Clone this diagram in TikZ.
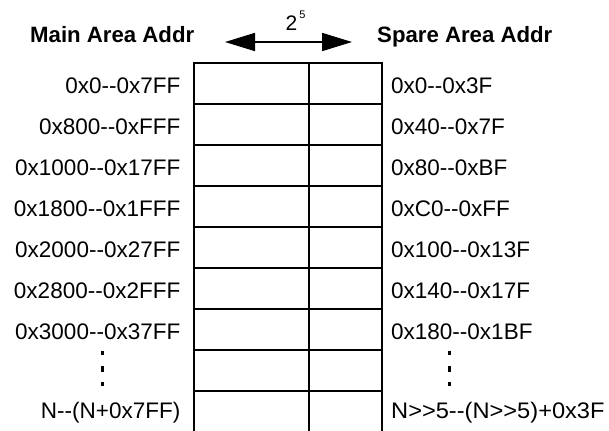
\documentclass[tikz,border=0pt]{standalone}
\usepackage{fontspec}
\usepackage{graphicx}
\setmainfont{Liberation Sans}
\usetikzlibrary{arrows.meta}
\newcommand\hyhy{-\kern0pt-}
\newcommand\gtgt{>\kern0pt>}
\begin{document}
\begin{tikzpicture}[x=1bp,y=-1bp,
  lbl/.style={inner sep=0pt,font=\fontsize{22.5bp}{26bp}\selectfont},
  lleft/.style={lbl,anchor=base east},
  lright/.style={lbl,anchor=base west},
  hdr/.style={inner sep=0pt,anchor=base west,font=\fontsize{22.2bp}{26bp}\selectfont\bfseries},
  gridline/.style={line width=2.3bp,line cap=rect},
  dotmark/.style={fill=black},
  bigarrow/.style={line width=1.7bp,{Triangle[length=30bp,width=18bp]}-{Triangle[length=30bp,width=18bp]}}]
\useasboundingbox (0,0) rectangle (609,430);
% headers
\node[hdr] (hmain) at (30,42) {Main Area Addr};
\node[hdr] (hspare) at (377,42) {Spare Area Addr};
% arrow and 2^5
\coordinate (aleft) at (225,42);
\coordinate (aright) at (352,42);
\draw[bigarrow] (aleft) -- (aright);
\node[inner sep=0pt,anchor=base,font=\fontsize{21bp}{24bp}\selectfont] (two) at (291.5,30) {2};
\node[inner sep=0pt,anchor=base,font=\fontsize{11bp}{13bp}\selectfont] (five) at (302.5,18) {5};
% table
\foreach \r in {0,...,8}{
  \draw[gridline] (194,63+41*\r) -- (382,63+41*\r);
}
\draw[gridline] (194,63) -- (194,440);
\draw[gridline] (309,63) -- (309,440);
\draw[gridline] (382,63) -- (382,440);
% left labels
\node[lleft] (l1) at (180.5,93) {0x0\hyhy0x7FF};
\node[lleft] (l2) at (180.5,134) {0x800\hyhy0xFFF};
\node[lleft] (l3) at (180.5,175) {0x1000\hyhy0x17FF};
\node[lleft] (l4) at (180.5,216) {0x1800\hyhy0x1FFF};
\node[lleft] (l5) at (180.5,257) {0x2000\hyhy0x27FF};
\node[lleft] (l6) at (180.5,298) {0x2800\hyhy0x2FFF};
\node[lleft] (l7) at (180.5,339) {0x3000\hyhy0x37FF};
\node[lleft] (l9) at (180.5,418) {N\hyhy(N+0x7FF)};
% right labels
\node[lright] (r1) at (391,93) {0x0\hyhy0x3F};
\node[lright] (r2) at (391,134) {0x40\hyhy0x7F};
\node[lright] (r3) at (391,175) {0x80\hyhy0xBF};
\node[lright] (r4) at (391,216) {0xC0\hyhy0xFF};
\node[lright] (r5) at (391,257) {0x100\hyhy0x13F};
\node[lright] (r6) at (391,298) {0x140\hyhy0x17F};
\node[lright] (r7) at (391,339) {0x180\hyhy0x1BF};
\node[lright] (r9) at (391,418) {\scalebox{1.05}[1]{N\gtgt5\hyhy(N\gtgt5)+0x3F}};
% vertical ellipsis dots
\foreach \xx in {102,449}{
  \fill[dotmark] (\xx-1.5,351) rectangle (\xx+1.5,355);
  \fill[dotmark] (\xx-1.5,366) rectangle (\xx+1.5,372);
  \fill[dotmark] (\xx-1.5,382) rectangle (\xx+1.5,386);
}
\end{tikzpicture}
\end{document}
